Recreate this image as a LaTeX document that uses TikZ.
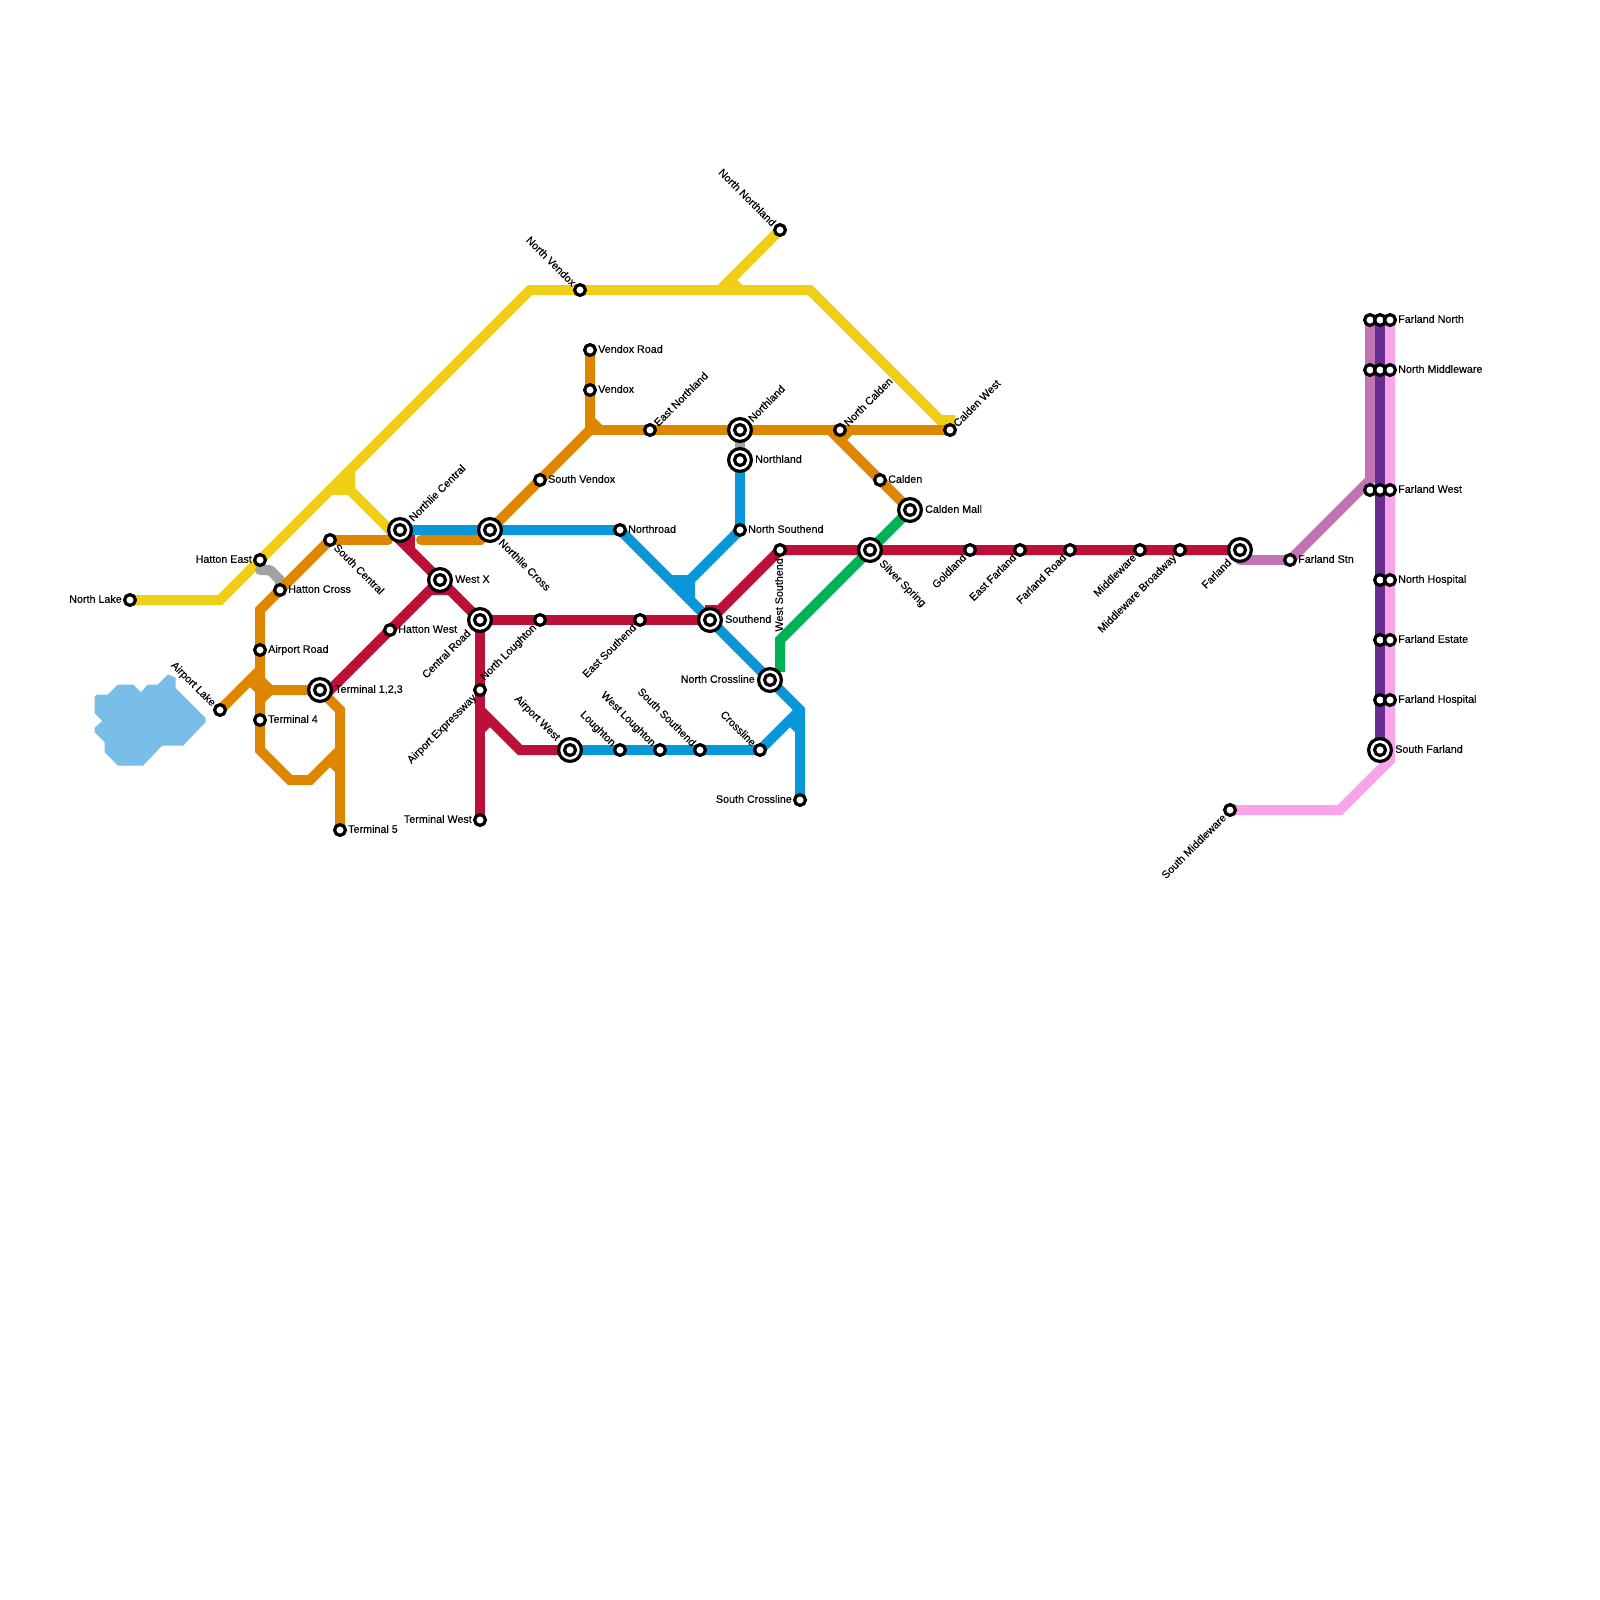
\documentclass[tikz,border=0pt]{standalone}
\usepackage{fontspec}
\newfontfamily\labfont{Liberation Sans}[FakeBold=0.25]
\usetikzlibrary{backgrounds}
\definecolor{cyellow}{HTML}{F0CE15}
\definecolor{corange}{HTML}{DF8600}
\definecolor{cred}{HTML}{BD1038}
\definecolor{cblue}{HTML}{0A97D9}
\definecolor{cgreen}{HTML}{00B251}
\definecolor{cgray}{HTML}{A2A2A2}
\definecolor{clilac}{HTML}{C274B2}
\definecolor{cpurple}{HTML}{662C90}
\definecolor{cpink}{HTML}{F9A3EA}
\definecolor{clake}{HTML}{79BDE9}
\tikzset{
 lineb/.style={line width=10pt,line join=miter,miter limit=4},
 capr/.style={line cap=round},
 stn/.style={circle,draw=black,fill=white,line width=3.2pt,minimum size=10.8pt,inner sep=0pt},
 icout/.style={circle,draw=black,fill=white,line width=3.2pt,minimum size=22.8pt,inner sep=0pt},
 icin/.style={circle,draw=black,fill=white,line width=3.2pt,minimum size=11pt,inner sep=0pt},
 lab/.style={inner sep=0pt,text height=7.6pt,text depth=0pt,font=\labfont\fontsize{10.75}{12}\selectfont,text=black},
}
\newcommand\st[3]{\node[stn] (#1) at (#2,#3) {};}
\newcommand\ic[3]{\node[icout] (#1) at (#2,#3) {};\node[icin] (#1-in) at (#1.center) {};}
\newcommand\lR[3]{\node[lab,anchor=west] (#1-l) at ([shift={(#2,-1)}]#1.center) {#3};}
\newcommand\lL[3]{\node[lab,anchor=east] (#1-l) at ([shift={(-#2,-1)}]#1.center) {#3};}
\newcommand\lNE[3]{\node[lab,anchor=west,rotate=45] (#1-l) at ([shift={(0.707*#2,-0.707*#2)}]#1.center) {#3};}
\newcommand\lSW[3]{\node[lab,anchor=east,rotate=45] (#1-l) at ([shift={(-0.707*#2,0.707*#2)}]#1.center) {#3};}
\newcommand\lSE[3]{\node[lab,anchor=west,rotate=-45] (#1-l) at ([shift={(0.707*#2,0.707*#2)}]#1.center) {#3};}
\newcommand\lNW[3]{\node[lab,anchor=east,rotate=-45] (#1-l) at ([shift={(-0.707*#2,-0.707*#2)}]#1.center) {#3};}
\begin{document}
\begin{tikzpicture}[x=1pt,y=-1pt]
\useasboundingbox (0,0) rectangle (1600,1600);
% stations
\st{nlake}{130}{600} \st{hatE}{260}{560} \st{hatC}{280}{590} \st{scen}{330}{540}
\st{arpt}{260}{650} \st{tfour}{260}{720} \st{alake}{220}{710} \st{tfive}{340}{830}
\st{hatW}{390}{630} \st{tw}{480}{820} \st{aex}{480}{690} \st{nlo}{540}{620}
\st{esth}{640}{620} \st{sven}{540}{480} \st{vr}{590}{350} \st{vx}{590}{390}
\st{enl}{650}{430} \st{nv}{580}{290} \st{nn}{780}{230} \st{ncal}{840}{430}
\st{cal}{880}{480} \st{cw}{950}{430} \st{nr}{620}{530} \st{nsth}{740}{530}
\st{wsth}{780}{550} \st{lough}{620}{750} \st{wl}{660}{750} \st{ss}{700}{750}
\st{cross}{760}{750} \st{sc}{800}{800} \st{gold}{970}{550} \st{ef}{1020}{550}
\st{fr}{1070}{550} \st{mid}{1140}{550} \st{mb}{1180}{550} \st{fs}{1290}{560}
\st{sm}{1230}{810}
\st{fna}{1370}{320} \st{fnb}{1380}{320} \st{fnc}{1390}{320}
\st{nma}{1370}{370} \st{nmb}{1380}{370} \st{nmc}{1390}{370}
\st{fwa}{1370}{490} \st{fwb}{1380}{490} \st{fwc}{1390}{490}
\st{nhb}{1380}{580} \st{nhc}{1390}{580}
\st{feb}{1380}{640} \st{fec}{1390}{640}
\st{fhb}{1380}{700} \st{fhc}{1390}{700}
\ic{nc}{400}{530} \ic{ncr}{490}{530} \ic{wx}{440}{580} \ic{cr}{480}{620}
\ic{tot}{320}{690} \ic{sth}{710}{620} \ic{ncl}{770}{680} \ic{aw}{570}{750}
\ic{nlu}{740}{430} \ic{nld}{740}{460} \ic{cm}{910}{510} \ic{sil}{870}{550}
\ic{far}{1240}{550} \ic{sfar}{1380}{750}
% labels
\lL{nlake}{8}{North Lake}
\lL{hatE}{8}{Hatton East}
\lR{hatC}{8}{Hatton Cross}
\lSE{scen}{8}{South Central}
\lR{arpt}{8}{Airport Road}
\lR{tfour}{8}{Terminal 4}
\lNW{alake}{8}{Airport Lake}
\lR{tfive}{8}{Terminal 5}
\lR{hatW}{8}{Hatton West}
\lL{tw}{8}{Terminal West}
\lSW{aex}{8}{Airport Expressway}
\lSW{nlo}{8}{North Loughton}
\lSW{esth}{8}{East Southend}
\lR{sven}{8}{South Vendox}
\lR{vr}{8}{Vendox Road}
\lR{vx}{8}{Vendox}
\lNE{enl}{8}{East Northland}
\lNW{nv}{8}{North Vendox}
\lNW{nn}{8}{North Northland}
\lNE{ncal}{8}{North Calden}
\lR{cal}{8}{Calden}
\lNE{cw}{7}{Calden West}
\lR{nr}{8}{Northroad}
\lR{nsth}{8}{North Southend}
\node[lab,anchor=east,rotate=90] (wsth-l) at ([shift={(-1,8)}]wsth.center) {West Southend};
\lNW{lough}{8}{Loughton}
\lNW{wl}{8}{West Loughton}
\lNW{ss}{8}{South Southend}
\lNW{cross}{8}{Crossline}
\lL{sc}{8}{South Crossline}
\lSW{gold}{8}{Goldland}
\lSW{ef}{8}{East Farland}
\lSW{fr}{8}{Farland Road}
\lSW{mid}{8}{Middleware}
\lSW{mb}{8}{Middleware Broadway}
\lR{fs}{8}{Farland Stn}
\lSW{sm}{8}{South Middleware}
\lR{fnc}{8}{Farland North}
\lR{nmc}{8}{North Middleware}
\lR{fwc}{8}{Farland West}
\lR{nhc}{8}{North Hospital}
\lR{fec}{8}{Farland Estate}
\lR{fhc}{8}{Farland Hospital}
\lNE{nc}{15}{Northlie Central}
\lSE{ncr}{15}{Northlie Cross}
\lR{wx}{15}{West X}
\lSW{cr}{16}{Central Road}
\lR{tot}{15}{Terminal 1,2,3}
\lR{sth}{15}{Southend}
\lL{ncl}{15}{North Crossline}
\lNW{aw}{16}{Airport West}
\lNE{nlu}{14}{Northland}
\lR{nld}{15}{Northland}
\lR{cm}{15}{Calden Mall}
\lSE{sil}{16}{Silver Spring}
\lSW{far}{15}{Farland}
\lR{sfar}{15}{South Farland}
% lines
\begin{scope}[on background layer]
\fill[clake,draw=clake,line width=1pt,line join=round]
 (97,695) -- (108,695) -- (118,685) -- (133,685) -- (141,693) -- (148,685) -- (158,685)
 -- (168,675) -- (175,678) -- (175,688) -- (205,718) -- (205,722) -- (183,745) -- (162,745)
 -- (143,765) -- (118,765) -- (105,752) -- (105,742) -- (95,732) -- (95,728) -- (103,721)
 -- (95,713) -- (95,697) -- cycle;
% yellow
\draw[cyellow,lineb] (nlake.center) -- (220,600) -- (530,290) -- (810,290) -- (940,420) -- (950,420) -- (cw.center);
\draw[cyellow,lineb] (nc.center) -- (390,530) -- (350,490) -- (350,470);
\fill[cyellow] (330,495) -- (350,495) -- (355,488) -- (355,465) -- (325,495) -- cycle;
\draw[cyellow,lineb] (nn.center) -- (720,290);
\draw[cyellow,lineb] (730,280) -- (740,290);
% gray
\draw[cgray,lineb,capr,line join=round] (hatE.center) ++(0,10) -- (270,570) -- (280,580) -- (hatC.center);
\draw[cgray,lineb] (nlu.center) -- (nld.center);
% orange
\draw[corange,lineb,capr] (scen.center) -- (388,540);
\draw[corange,lineb] (alake.center) -- (260,670);
\draw[corange,lineb] (scen.center) -- (hatC.center) -- (260,610) -- (arpt.center) -- (tfour.center) -- (260,750) -- (290,780) -- (310,780) -- (340,750);
\draw[corange,lineb] (250,680) -- (260,690);
\draw[corange,lineb] (260,680) -- (270,690) -- (tot.center);
\draw[corange,lineb] (260,700) -- (270,690);
\draw[corange,lineb] (tot.center) -- (340,710) -- (tfive.center);
\draw[corange,lineb] (330,760) -- (340,770);
\draw[corange,lineb,capr] (421,540) -- (480,540) -- (ncr.center);
\draw[corange,lineb] (ncr.center) -- (sven.center) -- (590,430) -- (vx.center) -- (vr.center);
\draw[corange,lineb] (590,420) -- (600,430);
\draw[corange,lineb] (590,430) -- (enl.center) -- (nlu.center) -- (ncal.center) -- (945,430);
\draw[corange,lineb] (cw.center) -- (945,430);
\draw[corange,lineb] (830,430) -- (cal.center) -- (cm.center);
\draw[corange,lineb] (840,440) -- (850,430);
% blue
\draw[cblue,lineb] (nc.center) -- (ncr.center) -- (nr.center) -- (sth.center) -- (ncl.center) -- (800,710) -- (sc.center);
\draw[cblue,lineb] (790,720) -- (800,730);
\draw[cblue,lineb] (aw.center) -- (lough.center) -- (wl.center) -- (ss.center) -- (cross.center) -- (800,710);
\draw[cblue,lineb] (nld.center) -- (nsth.center) -- (690,580);
\fill[cblue] (668,575) -- (695,575) -- (695,605) -- cycle;
% green
\draw[cgreen,lineb] (cm.center) -- (sil.center) -- (780,640) -- (780,672);
% red
\draw[cred,lineb] (tot.center) -- (330,690) -- (hatW.center) -- (430,590) -- (450,590) -- (cr.center);
\draw[cred,lineb] (nc.center) -- (400,540) -- (wx.center);
\draw[cred,lineb] (410,535) -- (410,552);
\draw[cred,lineb] (cr.center) -- (nlo.center) -- (esth.center) -- (sth.center);
\draw[cred,lineb] (sth.center) -- (710,610) -- (720,610) -- (wsth.center) -- (sil.center) -- (gold.center) -- (ef.center) -- (fr.center) -- (mid.center) -- (mb.center) -- (far.center);
\draw[cred,lineb] (cr.center) -- (aex.center) -- (tw.center);
\draw[cred,lineb] (480,710) -- (520,750) -- (aw.center);
\draw[cred,lineb] (480,730) -- (490,720);
% lilac, purple, pink
\draw[clilac,lineb,capr] (1240,560) -- (fs.center);
\draw[clilac,lineb] (fs.center) -- (1370,480) -- (fna.center);
\draw[cpink,lineb] (fnc.center) -- (1390,760) -- (1340,810) -- (sm.center);
\draw[cpurple,lineb] (fnb.center) -- (sfar.center);
\end{scope}
\end{tikzpicture}
\end{document}
